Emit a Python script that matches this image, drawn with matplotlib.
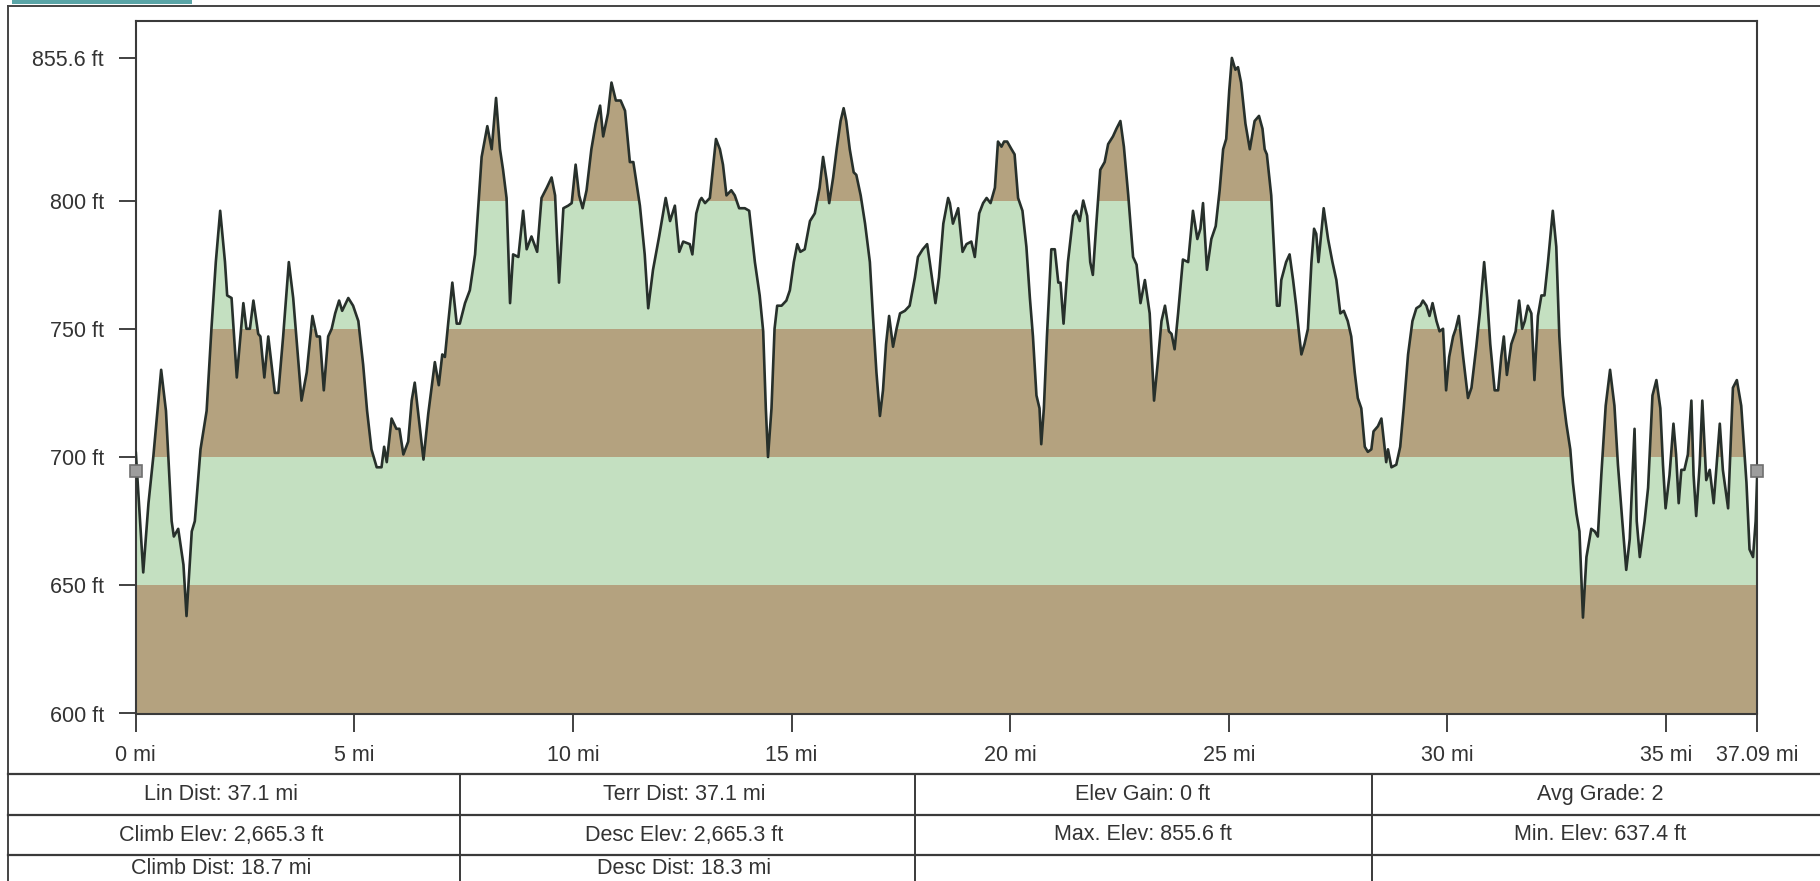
import numpy as np
import matplotlib
matplotlib.use("Agg")
import matplotlib.pyplot as plt
from matplotlib.patches import Polygon, Rectangle

plt.rcParams["font.family"] = ["Liberation Sans", "DejaVu Sans"]

# profil d'altitude (distance en mi, altitude en ft)
dist_mi = [
    0.00, 0.17, 0.29, 0.40, 0.58, 0.69, 0.82, 0.87, 0.97, 1.09, 1.16, 1.28, 1.35, 1.48,
    1.62, 1.73, 1.83, 1.93, 2.04, 2.09, 2.19, 2.31, 2.46, 2.53, 2.61, 2.69, 2.80, 2.85,
    2.94, 3.03, 3.18, 3.26, 3.37, 3.50, 3.60, 3.79, 3.91, 4.04, 4.14, 4.21, 4.30, 4.40,
    4.48, 4.56, 4.65, 4.72, 4.86, 4.97, 5.09, 5.20, 5.29, 5.39, 5.51, 5.62, 5.68, 5.74,
    5.85, 5.96, 6.03, 6.12, 6.23, 6.31, 6.38,
    6.58, 6.69, 6.84, 6.93, 7.01, 7.07, 7.15, 7.24, 7.34, 7.41, 7.53, 7.64, 7.76, 7.91,
    8.04, 8.14, 8.24, 8.33, 8.40, 8.48, 8.56, 8.63, 8.75, 8.86, 8.94, 9.05, 9.18, 9.28,
    9.40, 9.51, 9.59, 9.68, 9.78, 9.89, 9.97, 10.06, 10.14, 10.22, 10.31, 10.42, 10.52,
    10.62, 10.69, 10.80, 10.88, 10.98, 11.09, 11.19, 11.30, 11.38, 11.53, 11.64, 11.72,
    11.83, 11.97, 12.12, 12.22, 12.33, 12.43, 12.52, 12.67, 12.73, 12.82, 12.90,
    12.94, 13.02, 13.13, 13.27, 13.36, 13.43, 13.51, 13.62, 13.70, 13.80, 13.93, 14.03,
    14.16, 14.27, 14.35, 14.41, 14.46, 14.54, 14.61, 14.67, 14.77, 14.88, 14.96, 15.05,
    15.13, 15.20, 15.30, 15.42, 15.53, 15.64, 15.72, 15.80, 15.86, 15.95, 16.03, 16.12,
    16.19, 16.25, 16.33, 16.42, 16.48, 16.58, 16.68, 16.79, 16.86, 16.94, 17.02, 17.09,
    17.16, 17.23, 17.32, 17.40, 17.48, 17.59, 17.70, 17.82, 17.89, 18.00, 18.10, 18.16,
    18.29, 18.37, 18.47, 18.58, 18.62, 18.69, 18.81, 18.91, 19.00, 19.11, 19.19, 19.29,
    19.38, 19.46, 19.55, 19.65, 19.72, 19.80, 19.86, 19.93, 20.03, 20.10, 20.18, 20.28,
    20.37, 20.45, 20.52, 20.60, 20.67, 20.71, 20.77, 20.84, 20.94, 21.02, 21.10, 21.15,
    21.22, 21.32, 21.44, 21.51, 21.59, 21.67, 21.76, 21.83, 21.89, 21.97, 22.06, 22.16,
    22.24, 22.35, 22.43, 22.52, 22.60, 22.70, 22.81, 22.89, 22.98, 23.08, 23.19, 23.29,
    23.37, 23.46, 23.54, 23.63, 23.69, 23.76, 23.84, 23.95, 24.07, 24.18, 24.28, 24.35,
    24.41, 24.50, 24.60, 24.70, 24.79, 24.87, 24.94, 25.01, 25.07, 25.15, 25.21, 25.28,
    25.38, 25.48, 25.59, 25.69, 25.77, 25.82, 25.87, 25.97, 26.05, 26.10, 26.16, 26.20,
    26.31, 26.39, 26.47, 26.54, 26.62, 26.66, 26.73, 26.81, 26.89, 26.95, 27.00, 27.05,
    27.17, 27.27, 27.37, 27.46, 27.55, 27.63, 27.72, 27.80, 27.88, 27.95, 28.03, 28.11,
    28.18, 28.26, 28.31, 28.41, 28.49, 28.56, 28.60, 28.64, 28.72, 28.83, 28.92, 29.00,
    29.10, 29.20, 29.29, 29.38, 29.44, 29.52, 29.59, 29.66, 29.75, 29.82, 29.90, 29.97,
    30.04, 30.13, 30.19, 30.26, 30.36, 30.47, 30.55, 30.66, 30.74, 30.84, 30.91, 30.98,
    31.08, 31.16, 31.23, 31.29, 31.36, 31.46, 31.56, 31.64, 31.71, 31.77, 31.84, 31.92,
    31.99, 32.07, 32.15, 32.22, 32.30, 32.41, 32.49, 32.56, 32.64, 32.72, 32.81, 32.87,
    32.95, 33.02, 33.10, 33.18, 33.29, 33.37, 33.44, 33.52, 33.62, 33.72, 33.82, 33.90,
    34.00, 34.09, 34.17, 34.28, 34.33, 34.40, 34.51, 34.59, 34.69, 34.78, 34.87, 34.93,
    34.99, 35.08, 35.17, 35.23, 35.29, 35.35, 35.42, 35.50, 35.58, 35.63, 35.69, 35.77,
    35.83, 35.92, 36.00, 36.09, 36.23, 36.30, 36.42, 36.53, 36.62, 36.72, 36.84, 36.91,
    36.99, 37.05, 37.09,
]
elev_ft = [
    702, 655, 682, 700, 734, 718, 675, 669, 672, 658, 638, 671, 675, 703,
    718, 750, 776, 796, 776, 763, 762, 731, 760, 750, 750, 761, 748, 747,
    731, 747, 725, 725, 747, 776, 762, 722, 733, 755, 747, 747, 726, 747,
    750, 756, 761, 757, 762, 759, 753, 736, 718, 703, 696, 696, 704, 698,
    715, 711, 711, 701, 706, 722, 729,
    699, 717, 737, 728, 740, 739, 753, 768, 752, 752, 760, 765, 779, 817,
    829, 820, 840, 820, 812, 801, 760, 779, 778, 796, 781, 786, 780, 801,
    805, 809, 802, 768, 797, 798, 799, 814, 802, 797, 804, 820, 830,
    837, 825, 834, 846, 839, 839, 835, 815, 815, 798, 779, 758,
    773, 786, 801, 792, 798, 780, 784, 783, 779, 795, 800,
    801, 799, 801, 824, 820, 814, 802, 804, 802, 797, 797, 796,
    776, 763, 749, 719, 700, 719, 750, 759, 759, 761, 765, 776,
    783, 780, 781, 792, 795, 805, 817, 808, 799, 809, 820, 831,
    836, 831, 820, 811, 810, 802, 791, 776, 755, 733, 716, 726,
    744, 755, 743, 750, 756, 757, 759, 770, 778, 781, 783, 776,
    760, 770, 791, 801, 799, 791, 797, 780, 783, 784, 778, 795,
    799, 801, 799, 805, 823, 821, 823, 823, 820, 818, 801, 796,
    782, 762, 747, 724, 719, 705, 719, 747, 781, 781, 768, 768,
    752, 776, 794, 796, 792, 800, 794, 776, 771, 791, 812, 815,
    822, 825, 828, 831, 821, 802, 778, 775, 760, 769, 756, 722,
    736, 753, 759, 749, 748, 742, 756, 777, 776, 796, 785, 789,
    799, 773, 785, 790, 804, 820, 824, 843, 855.6, 851, 852, 846,
    830, 820, 831, 833, 828, 820, 818, 802, 776, 759, 759, 769,
    776, 779, 769, 759, 746, 740, 744, 750, 776, 789, 787, 776,
    797, 785, 776, 769, 756, 757, 753, 747, 733, 723, 719, 704,
    702, 703, 710, 712, 715, 704, 698, 703, 696, 697, 704, 719,
    740, 753, 758, 759, 761, 759, 755, 760, 753, 749, 750, 726,
    739, 747, 750, 755, 739, 723, 727, 743, 756, 776, 762, 744,
    726, 726, 739, 747, 732, 744, 749, 761, 750, 753, 759, 756,
    730, 755, 763, 763, 776, 796, 782, 747, 724, 713, 703, 690,
    678, 671, 637.4, 661, 672, 671, 669, 693, 720, 734, 720, 697,
    675, 656, 668, 711, 675, 661, 675, 688, 724, 730, 719, 697,
    680, 693, 713, 701, 682, 695, 695, 701, 722, 693, 677, 697,
    722, 691, 695, 682, 713, 695, 680, 727, 730, 720, 690, 664,
    661, 675, 695,
]

endpoint_mi = [0.0, 37.09]
endpoint_ft = [694.5, 694.5]

x_ticks = [0, 5, 10, 15, 20, 25, 30, 35, 37.09]
x_labels = ["0 mi", "5 mi", "10 mi", "15 mi", "20 mi", "25 mi", "30 mi", "35 mi", "37.09 mi"]
y_ticks = [600, 650, 700, 750, 800, 855.6]
y_labels = ["600 ft", "650 ft", "700 ft", "750 ft", "800 ft", "855.6 ft"]

band_edges = [600, 650, 700, 750, 800, 870]

stats_rows = [
    ["Lin Dist: 37.1 mi", "Terr Dist: 37.1 mi", "Elev Gain: 0 ft", "Avg Grade: 2"],
    ["Climb Elev: 2,665.3 ft", "Desc Elev: 2,665.3 ft", "Max. Elev: 855.6 ft", "Min. Elev: 637.4 ft"],
    ["Climb Dist: 18.7 mi", "Desc Dist: 18.3 mi", "", ""],
]

BROWN = "#b4a27f"
GREEN = "#c4e0c1"
DARK = "#333333"
FS = 15.5

W, H = 1820, 881
fig = plt.figure(figsize=(W / 100, H / 100), dpi=100)
fig.patch.set_facecolor("white")

# calque en pixels pour le cadre et le tableau
bg = fig.add_axes([0, 0, 1, 1])
bg.set_xlim(0, W)
bg.set_ylim(H, 0)
bg.axis("off")
bg.add_patch(Rectangle((12, 0), 180, 4, color="#5aa5a7", lw=0))
bg.plot([8, W], [6, 6], color="#444444", lw=1.4)
bg.plot([8, 8], [6, H], color="#444444", lw=1.4)

row_lines = [774, 815, 855]
col_lines = [460, 915, 1372]
for yl in row_lines:
    bg.plot([8, W], [yl, yl], color="#3a3a3a", lw=1.6)
for xl in col_lines:
    bg.plot([xl, xl], [row_lines[0], H], color="#3a3a3a", lw=1.4)
col_centers = [221, 684, 1143, 1600]
row_centers = [794.5, 835, 869]
for r, row in enumerate(stats_rows):
    for c, txt in enumerate(row):
        bg.text(col_centers[c], row_centers[r], txt, ha="center", va="center",
                fontsize=FS, color=DARK)

# graphique principal
left, right, top, bottom = 135.8, 1757.4, 21, 713.5
ax = fig.add_axes([left / W, 1 - bottom / H, (right - left) / W, (bottom - top) / H])
ax.set_xlim(0, 37.09)
ax.set_ylim(band_edges[0], band_edges[-1])
ax.patch.set_alpha(0)

x = np.array(dist_mi)
y = np.array(elev_ft)
under = Polygon(np.column_stack([np.r_[x, x[-1], x[0]], np.r_[y, band_edges[0], band_edges[0]]]),
                closed=True, facecolor="none", edgecolor="none", transform=ax.transData)
ax.add_patch(under)
for i in range(len(band_edges) - 1):
    color = BROWN if i % 2 == 0 else GREEN
    band = ax.axhspan(band_edges[i], band_edges[i + 1], color=color, lw=0, zorder=1)
    band.set_clip_path(under)

ax.plot(x, y, color="#27302b", lw=1.9, solid_joinstyle="round", solid_capstyle="round", zorder=3)
ax.plot(endpoint_mi, endpoint_ft, "s", ms=8, mfc="#9d9d9d", mec="#707070", mew=1.2,
        clip_on=False, zorder=5)

ax.set_xticks(x_ticks)
ax.set_xticklabels(x_labels)
ax.set_yticks(y_ticks)
ax.set_yticklabels(y_labels)
ax.tick_params(axis="x", direction="out", length=13, width=1.3, pad=10,
               labelsize=FS, colors=DARK)
ax.tick_params(axis="y", direction="out", length=12, width=1.3, pad=11,
               labelsize=FS, colors=DARK)
for s in ax.spines.values():
    s.set_color("#3a3a3a")
    s.set_linewidth(1.5)

fig.savefig("out.png", dpi=100)
